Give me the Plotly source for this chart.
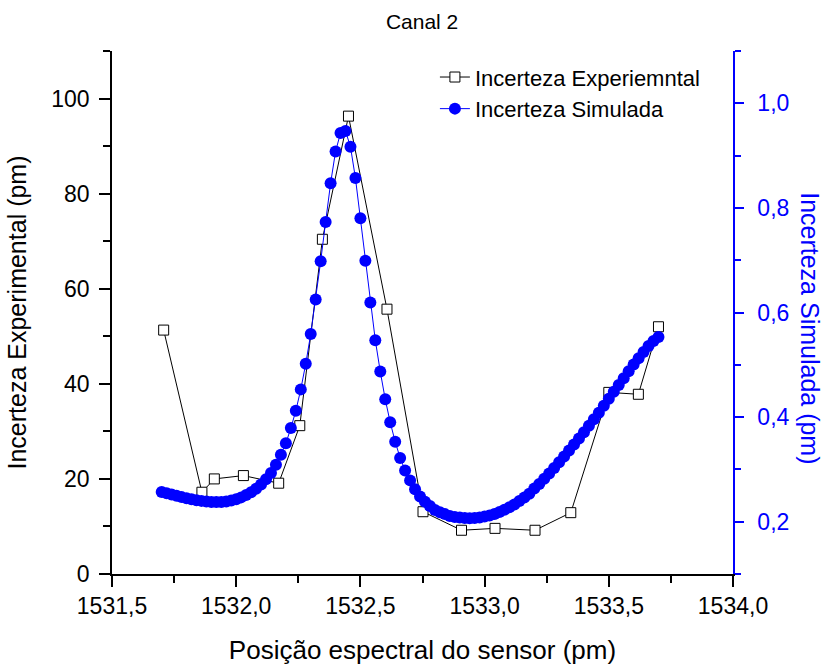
import plotly.graph_objects as go

# Experimental uncertainty (left axis, pm)
exp_x = [1531.708, 1531.862, 1531.912, 1532.029, 1532.171, 1532.256, 1532.347,
         1532.452, 1532.607, 1532.752, 1532.907, 1533.042, 1533.203, 1533.347,
         1533.500, 1533.619, 1533.700]
exp_y = [51.3, 17.2, 20.0, 20.7, 19.1, 31.2, 70.4, 96.3, 55.7, 13.1, 9.2, 9.6,
         9.2, 12.9, 38.2, 37.8, 52.0]

# Simulated uncertainty (right axis, pm), 0.02 pm step from 1531.70 to 1533.70
sim_x = [round(1531.70 + 0.02 * i, 2) for i in range(101)]
sim_y = [0.257, 0.2545, 0.252, 0.2495, 0.247, 0.245, 0.243, 0.2412, 0.2398, 0.2385,
         0.2378, 0.2375, 0.2378, 0.2388, 0.2405, 0.243, 0.2465, 0.251, 0.2565, 0.263,
         0.271, 0.281, 0.293, 0.309, 0.328, 0.350, 0.379, 0.412, 0.453, 0.502,
         0.559, 0.625, 0.698, 0.773, 0.847, 0.908, 0.943, 0.947, 0.917, 0.857,
         0.780, 0.699, 0.619, 0.547, 0.487, 0.434, 0.390, 0.353, 0.322, 0.298,
         0.279, 0.262, 0.248, 0.238, 0.230, 0.2225, 0.218, 0.2145, 0.211, 0.209,
         0.2078, 0.207, 0.2068, 0.2072, 0.2082, 0.2098, 0.212, 0.2148, 0.2185, 0.2228,
         0.2275, 0.233, 0.2395, 0.2462, 0.2535, 0.2635, 0.272, 0.282, 0.292, 0.3025,
         0.3135, 0.3245, 0.336, 0.3475, 0.359, 0.371, 0.3835, 0.396, 0.4085, 0.4215,
         0.435, 0.4485, 0.4615, 0.4745, 0.4875, 0.5005, 0.5125, 0.5245, 0.536, 0.5455,
         0.553]

x_ticks = [1531.5, 1532.0, 1532.5, 1533.0, 1533.5, 1534.0]
y_ticks = [0, 20, 40, 60, 80, 100]
y2_ticks = [0.2, 0.4, 0.6, 0.8, 1.0]

FONT = "Arial, Liberation Sans, sans-serif"
BLUE = "#0000FF"

fig = go.Figure()
fig.add_trace(go.Scatter(
    x=exp_x, y=exp_y, mode="lines+markers", name="Incerteza Experiemntal",
    line=dict(color="black", width=1),
    marker=dict(symbol="square", size=10, color="white",
                line=dict(color="black", width=1)),
    yaxis="y", xaxis="x"))
fig.add_trace(go.Scatter(
    x=sim_x, y=sim_y, mode="lines+markers", name="Incerteza Simulada",
    line=dict(color=BLUE, width=1),
    marker=dict(symbol="circle", size=12, color=BLUE),
    yaxis="y2", xaxis="x"))

fig.update_layout(
    width=826, height=666,
    margin=dict(l=112, r=93, t=51, b=92, autoexpand=False),
    paper_bgcolor="white", plot_bgcolor="white",
    separators=",.",
    font=dict(family=FONT, color="black"),
    title=dict(text="Canal 2", x=0.511, xanchor="center", y=0.967, yanchor="middle",
               font=dict(size=21, family=FONT, color="black")),
    showlegend=True,
    legend=dict(x=0.52, y=0.99, xanchor="left", yanchor="top",
                bgcolor="rgba(0,0,0,0)", borderwidth=0,
                font=dict(size=22, family=FONT, color="black"),
                tracegroupgap=0),
    xaxis=dict(range=[1531.5, 1534.0], tickvals=x_ticks, tickformat=".1f",
               automargin=False,
               ticks="outside", ticklen=11, tickwidth=1.5, tickcolor="black",
               minor=dict(dtick=0.25, tick0=1531.5, ticks="outside", ticklen=7,
                          tickwidth=1.5, tickcolor="black"),
               showline=True, linecolor="black", linewidth=1.5,
               showgrid=False, zeroline=False,
               tickfont=dict(size=23, family=FONT, color="black"),
               title=dict(text="Posição espectral do sensor (pm)",
                          font=dict(size=26, family=FONT, color="black"),
                          standoff=22)),
    xaxis2=dict(range=[1531.5, 1534.0], overlaying="x", side="top", anchor="y",
                automargin=False,
                tickvals=x_ticks, showticklabels=False,
                ticks="inside", ticklen=11, tickwidth=1.5, tickcolor="black",
                minor=dict(dtick=0.25, tick0=1531.5, ticks="inside", ticklen=7,
                           tickwidth=1.5, tickcolor="black"),
                showline=True, linecolor="black", linewidth=1.5,
                showgrid=False, zeroline=False),
    yaxis=dict(range=[0, 110], tickvals=y_ticks, automargin=False,
               ticks="outside", ticklen=11, tickwidth=1.5, tickcolor="black",
               ticklabelstandoff=5,
               minor=dict(dtick=10, tick0=0, ticks="outside", ticklen=7,
                          tickwidth=1.5, tickcolor="black"),
               showline=True, linecolor="black", linewidth=1.5,
               showgrid=False, zeroline=False,
               tickfont=dict(size=23, family=FONT, color="black"),
               title=dict(text="Incerteza Experimental (pm)",
                          font=dict(size=25, family=FONT, color="black"),
                          standoff=18)),
    yaxis2=dict(range=[0.1, 1.1], overlaying="y", side="right", anchor="x",
                tickvals=y2_ticks, tickformat=".1f", automargin=False,
                ticks="outside", ticklen=9, tickwidth=1.5, tickcolor=BLUE,
                ticklabelstandoff=9,
                minor=dict(dtick=0.1, tick0=0.1, ticks="outside", ticklen=6,
                           tickwidth=1.5, tickcolor=BLUE),
                showline=True, linecolor=BLUE, linewidth=1.5,
                showgrid=False, zeroline=False,
                tickfont=dict(size=23, family=FONT, color=BLUE)),
    annotations=[dict(text="Incerteza Simulada (pm)", textangle=90,
                      xref="paper", yref="paper", x=1.124, y=0.47,
                      xanchor="center", yanchor="middle", showarrow=False,
                      font=dict(size=25, family=FONT, color=BLUE))],
)

fig.write_html("out.html")
